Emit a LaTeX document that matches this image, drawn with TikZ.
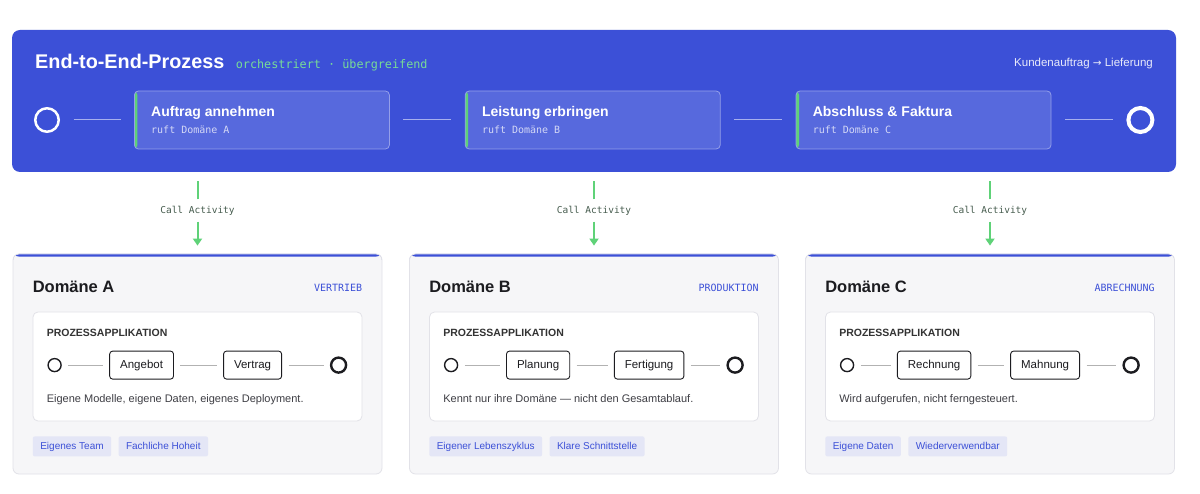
\documentclass[tikz,border=0pt]{standalone}
\usepackage{fontspec}
\setmainfont{Liberation Sans}
\setmonofont{DejaVu Sans Mono}
\newfontfamily\arrowfont{DejaVu Sans}
\usetikzlibrary{positioning,arrows.meta}

\definecolor{bandblue}{RGB}{60,80,215}
\definecolor{callgreen}{RGB}{95,210,120}
\definecolor{softgreen}{RGB}{120,220,150}
\definecolor{cardgray}{RGB}{246,246,248}
\definecolor{cardline}{RGB}{226,226,232}
\definecolor{taglilac}{RGB}{228,230,246}
\definecolor{inktext}{RGB}{28,28,32}
\definecolor{greytext}{RGB}{62,62,68}
\definecolor{callink}{RGB}{70,92,78}

\tikzset{
  band/.style={rectangle,rounded corners=8pt,fill=bandblue,minimum width=1164pt,minimum height=142pt,inner sep=0},
  task/.style={rectangle,rounded corners=4pt,fill=bandblue!86!white,draw=bandblue!55!white,line width=0.8pt,
    minimum width=255pt,minimum height=58pt,inner sep=0,
    path picture={\fill[callgreen] (path picture bounding box.north west) rectangle ([xshift=3pt]path picture bounding box.south west);}},
  startev/.style={circle,draw=white,line width=2.5pt,minimum size=23.5pt,inner sep=0},
  endev/.style={circle,draw=white,line width=4pt,minimum size=24pt,inner sep=0},
  bandflow/.style={draw=bandblue!45!white,line width=1pt,shorten >=13.5pt,shorten <=13.5pt},
  tasktitle/.style={anchor=base west,inner sep=0,text=white,font=\fontsize{14}{16}\selectfont\bfseries},
  tasksub/.style={anchor=base west,inner sep=0,text=bandblue!22!white,font=\ttfamily\fontsize{10}{12}\selectfont},
  calllabel/.style={inner sep=0,minimum height=22pt,text=callink,font=\ttfamily\fontsize{9.5}{11}\selectfont},
  callline/.style={draw=callgreen,line width=2pt},
  card/.style={rectangle,rounded corners=6pt,fill=cardgray,draw=cardline,line width=0.8pt,
    minimum width=369pt,minimum height=220pt,inner sep=0,
    path picture={\fill[bandblue] (path picture bounding box.north west) rectangle ([yshift=-2.6pt]path picture bounding box.north east);}},
  appbox/.style={rectangle,rounded corners=5pt,fill=white,draw=cardline,line width=0.8pt,
    minimum width=329pt,minimum height=109pt,inner sep=0},
  stepbox/.style={rectangle,rounded corners=3pt,draw=inktext,line width=0.9pt,fill=white,
    minimum height=28pt,inner xsep=10.5pt,inner ysep=0,text height=8.4pt,text depth=2.4pt,
    text=inktext,font=\fontsize{11.5}{13}\selectfont},
  smallstart/.style={circle,draw=inktext,line width=1.4pt,minimum size=13pt,inner sep=0},
  smallend/.style={circle,draw=inktext,line width=2.4pt,minimum size=15pt,inner sep=0},
  rowflow/.style={draw=black!30,line width=0.9pt,shorten >=6pt,shorten <=6.5pt},
  chip/.style={rectangle,rounded corners=2pt,fill=taglilac,minimum height=20pt,inner xsep=7.5pt,inner ysep=0,
    text height=7.3pt,text depth=2.1pt,text=bandblue,font=\fontsize{10}{12}\selectfont},
}

\begin{document}
\begin{tikzpicture}[x=1pt,y=-1pt,>={Triangle[width=9pt,length=7pt]}]
\fill[white] (0,0) rectangle (1200,494);

% orchestrating process
\node[band] (band) at (594,101) {};
\node[anchor=base west,inner sep=0,text=white,font=\fontsize{19.8}{22}\selectfont\bfseries] (title) at (35,68.5) {End-to-End-Prozess};
\node[anchor=base west,inner sep=0,xshift=11pt,text=softgreen,font=\ttfamily\fontsize{11.8}{13}\selectfont] (tagline) at (title.base east) {orchestriert · übergreifend};
\node[anchor=base east,inner sep=0,text=white!88!bandblue,font=\fontsize{11.5}{13}\selectfont] (route) at (1153,66.5) {Kundenauftrag {\arrowfont\fontsize{10.5}{13}\selectfont →} Lieferung};

\node[startev] (begin) at (47,120) {};
\node[task,right=74pt of begin] (task1) {};
\node[task,right=75pt of task1] (task2) {};
\node[task,right=75pt of task2] (task3) {};
\node[endev,right=75pt of task3] (finish) {};
\draw[bandflow] (begin) -- (task1);
\draw[bandflow] (task1) -- (task2);
\draw[bandflow] (task2) -- (task3);
\draw[bandflow] (task3) -- (finish);

\node[tasktitle] (task1t) at ([xshift=17pt,yshift=3pt]task1.west) {Auftrag annehmen};
\node[tasksub] (task1s) at ([xshift=17pt,yshift=-14pt]task1.west) {ruft Domäne A};
\node[tasktitle] (task2t) at ([xshift=17pt,yshift=3pt]task2.west) {Leistung erbringen};
\node[tasksub] (task2s) at ([xshift=17pt,yshift=-14pt]task2.west) {ruft Domäne B};
\node[tasktitle] (task3t) at ([xshift=17pt,yshift=3pt]task3.west) {Abschluss \& Faktura};
\node[tasksub] (task3s) at ([xshift=17pt,yshift=-14pt]task3.west) {ruft Domäne C};

% domains
\foreach \id/\cx/\name/\area/\ta/\tb/\desc/\tga/\tgb in {
  A/197.5/Domäne A/VERTRIEB/Angebot/Vertrag/{Eigene Modelle, eigene Daten, eigenes Deployment.}/Eigenes Team/Fachliche Hoheit,
  B/594/Domäne B/PRODUKTION/Planung/Fertigung/Kennt nur ihre Domäne — nicht den Gesamtablauf./Eigener Lebenszyklus/Klare Schnittstelle,
  C/990/Domäne C/ABRECHNUNG/Rechnung/Mahnung/{Wird aufgerufen, nicht ferngesteuert.}/Eigene Daten/Wiederverwendbar}{
  \node[card] (card\id) at (\cx,364) {};
  \node[calllabel] (call\id) at (\cx,210.5) {Call Activity};
  \draw[callline,shorten >=9pt] (call\id.north) -- (call\id.north |- band.south);
  \draw[callline,->,shorten >=8pt] (call\id.south) -- (card\id.north);

  \node[anchor=base west,inner sep=0,text=inktext,font=\fontsize{16.5}{19}\selectfont\bfseries] (name\id) at ([xshift=20pt,yshift=-38.5pt]card\id.north west) {\name};
  \node[anchor=base east,inner sep=0,text=bandblue,font=\ttfamily\fontsize{10}{12}\selectfont] (area\id) at ([xshift=-20pt,yshift=-37.7pt]card\id.north east) {\area};

  \node[appbox,below=58pt of card\id.north] (app\id) {};
  \node[anchor=base west,inner sep=0,text=black!80,font=\fontsize{10.5}{12}\selectfont\bfseries] (head\id) at ([xshift=14pt,yshift=-25pt]app\id.north west) {PROZESSAPPLIKATION};
  \node[smallstart] (start\id) at ([xshift=22pt,yshift=-53.5pt]app\id.north west) {};
  \node[stepbox] (first\id) at ([xshift=109pt,yshift=-53.5pt]app\id.north west) {\ta};
  \node[stepbox] (second\id) at ([xshift=220pt,yshift=-53.5pt]app\id.north west) {\tb};
  \node[smallend] (stop\id) at ([xshift=306pt,yshift=-53.5pt]app\id.north west) {};
  \draw[rowflow] (start\id) -- (first\id);
  \draw[rowflow] (first\id) -- (second\id);
  \draw[rowflow] (second\id) -- (stop\id);
  \node[anchor=base west,inner sep=0,text=greytext,font=\fontsize{11}{13}\selectfont] (desc\id) at ([xshift=14pt,yshift=-90.5pt]app\id.north west) {\desc};

  \node[chip,anchor=west] (chipa\id) at ([xshift=20pt,yshift=28pt]card\id.south west) {\tga};
  \node[chip,right=7pt of chipa\id] (chipb\id) {\tgb};
}
\end{tikzpicture}
\end{document}
